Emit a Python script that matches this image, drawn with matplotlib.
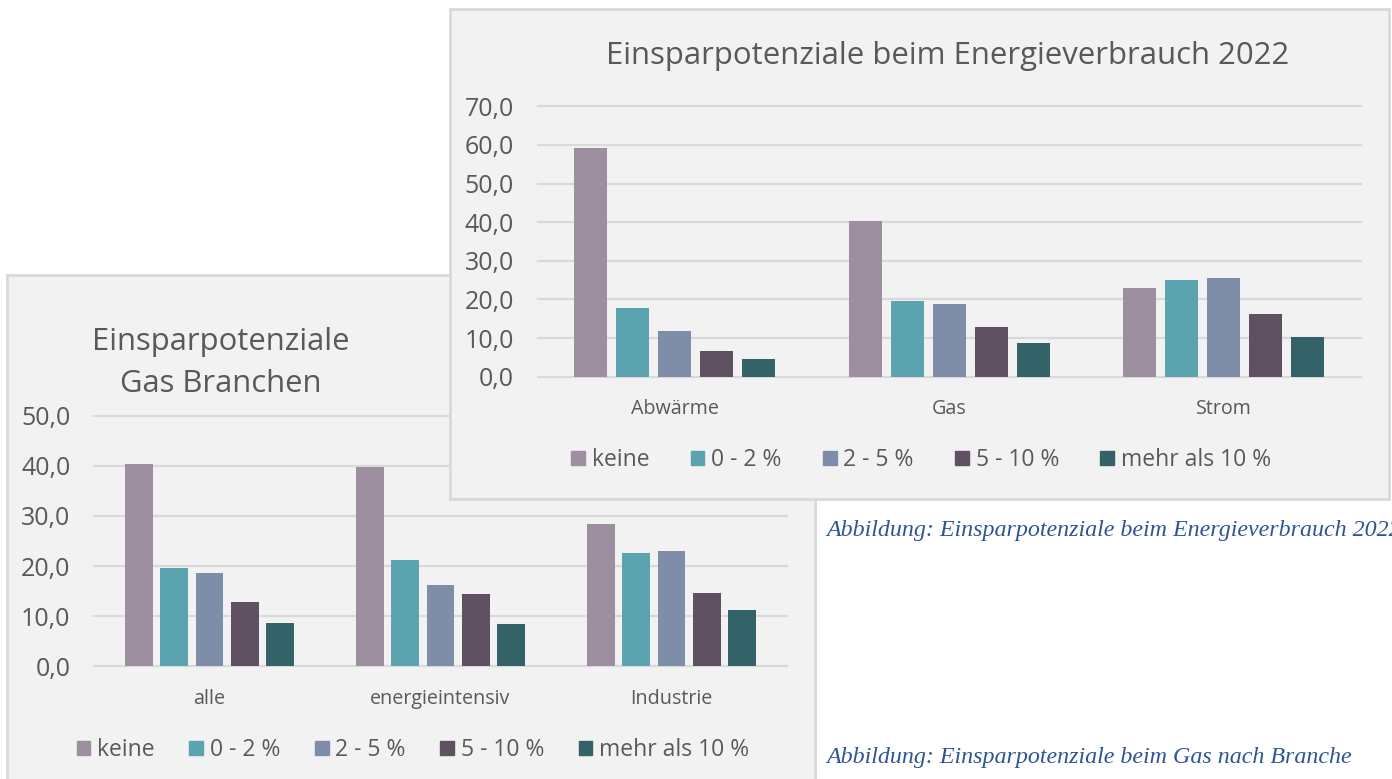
import numpy as np
import matplotlib
matplotlib.use("Agg")
import matplotlib.pyplot as plt
from matplotlib.patches import Patch

# ____________ data
serien = ["keine", "0 - 2 %", "2 - 5 %", "5 - 10 %", "mehr als 10 %"]
farben = ["#9E8FA0", "#5BA3AE", "#7F8EA8", "#5F5161", "#336369"]

kat_energie = ["Abwärme", "Gas", "Strom"]
energie_keine = [59.3, 40.4, 22.9]
energie_0_2 = [17.7, 19.5, 25.0]
energie_2_5 = [11.9, 18.8, 25.6]
energie_5_10 = [6.7, 12.8, 16.2]
energie_10 = [4.6, 8.7, 10.4]

kat_branchen = ["alle", "energieintensiv", "Industrie"]
branchen_keine = [40.4, 39.8, 28.3]
branchen_0_2 = [19.6, 21.3, 22.7]
branchen_2_5 = [18.6, 16.2, 23.1]
branchen_5_10 = [12.8, 14.4, 14.6]
branchen_10 = [8.6, 8.5, 11.2]

yticks_energie = [0, 10, 20, 30, 40, 50, 60, 70]
yticks_branchen = [0, 10, 20, 30, 40, 50]

titel_energie = "Einsparpotenziale beim Energieverbrauch 2022"
titel_branchen = "Einsparpotenziale\nGas Branchen"
cap1 = "Abbildung: Einsparpotenziale beim Energieverbrauch 2022"
cap2 = "Abbildung: Einsparpotenziale beim Gas nach Branche"

# ____________ layout
W, H = 1392, 779
FONT = ["Open Sans", "DejaVu Sans"]
TXT = "#595959"
GRID = "#D9D9D9"
BG = "#F2F2F2"
plt.rcParams["font.family"] = FONT


def box(x0, y0, x1, y1):
    return [x0 / W, 1 - y1 / H, (x1 - x0) / W, (y1 - y0) / H]


def hintergrund(rect, z):
    b = fig.add_axes(rect, zorder=z)
    b.set_facecolor(BG)
    b.set_xticks([])
    b.set_yticks([])
    for s in b.spines.values():
        s.set_color(GRID)
        s.set_linewidth(2)
    return b


def balken(ax, kategorien, reihen, yticks):
    x = np.arange(len(kategorien))
    step = 0.153
    for j, werte in enumerate(reihen):
        ax.bar(x + (j - 2) * step, werte, 0.12, color=farben[j], zorder=3)
    for v in yticks:
        ax.axhline(v, color=GRID, lw=1.6, zorder=1, clip_on=False)
    ax.set_xlim(-0.5, len(kategorien) - 0.5)
    ax.set_ylim(yticks[0], yticks[-1])
    ax.set_yticks(yticks)
    ax.set_yticklabels([("%.1f" % v).replace(".", ",") for v in yticks])
    ax.set_xticks(x)
    ax.set_xticklabels(kategorien)
    ax.tick_params(axis="y", length=0, pad=17, labelsize=18, labelcolor=TXT)
    ax.tick_params(axis="x", length=0, pad=16, labelsize=14.2, labelcolor=TXT)
    ax.patch.set_visible(False)
    for s in ax.spines.values():
        s.set_visible(False)


def legende(ax, xc, yc, spalt):
    hand = [Patch(color=c) for c in farben]
    ax.legend(hand, serien, loc="center", bbox_to_anchor=(xc / W, 1 - yc / H),
              bbox_transform=fig.transFigure, ncol=5, frameon=False,
              fontsize=16.5, labelcolor=TXT, handlelength=0.6, handleheight=0.6,
              handletextpad=0.3, columnspacing=spalt)


fig = plt.figure(figsize=(W / 100, H / 100), dpi=100, facecolor="white")

#_____________ Gas Branchen (hinten)
bgA = hintergrund(box(7, 275, 815, 800), 1)
axA = fig.add_axes(box(94, 415.7, 787, 666.3), zorder=2)
balken(axA, kat_branchen,
       [branchen_keine, branchen_0_2, branchen_2_5, branchen_5_10, branchen_10],
       yticks_branchen)
axA.text(221 / W, 1 - 363 / H, titel_branchen, transform=fig.transFigure,
         ha="center", va="center", fontsize=22.3, color=TXT, linespacing=1.55)
legende(axA, 413, 750, 1.5)

#_____________ Energieverbrauch (vorne)
bgB = hintergrund(box(450, 9, 1389, 499), 3)
axB = fig.add_axes(box(537.5, 106.3, 1361, 376.7), zorder=4)
balken(axB, kat_energie,
       [energie_keine, energie_0_2, energie_2_5, energie_5_10, energie_10],
       yticks_energie)
axB.text(947.5 / W, 1 - 56 / H, titel_energie, transform=fig.transFigure,
         ha="center", va="center", fontsize=22.4, color=TXT)
legende(axB, 921, 460, 1.8)

#_____________ Bildunterschriften
fig.text(826 / W, 1 - 535.7 / H, cap1, family="Liberation Serif", style="italic",
         fontsize=17.25, color="#2F5496", va="baseline")
fig.text(826 / W, 1 - 763 / H, cap2, family="Liberation Serif", style="italic",
         fontsize=17.25, color="#2F5496", va="baseline")

fig.savefig("out.png", dpi=100, facecolor="white")
